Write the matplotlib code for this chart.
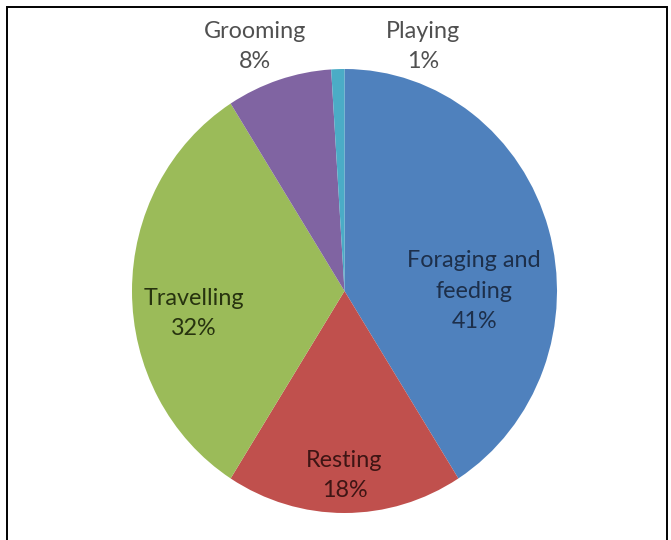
import matplotlib
matplotlib.use("Agg")
import matplotlib.pyplot as plt
from matplotlib.patches import Rectangle

# ----- data -----
labels = ["Foraging and\nfeeding", "Resting", "Travelling", "Grooming", "Playing"]
shares = [41, 18, 32, 8, 1]
colors = ["#4F81BD", "#C0504D", "#9BBB59", "#8064A2", "#4BACC6"]
text_colors = ["#1d2f4a", "#3e1514", "#27330f", "#505050", "#505050"]
# label centres in pie units (x, y), Excel "best fit" placement
label_pos = [(0.61, 0.0), (0.0, -0.83), (-0.71, -0.10), (-0.42, 1.10), (0.37, 1.10)]

W, H = 671, 540
fig = plt.figure(figsize=(W / 100, H / 100), dpi=100)
fig.patch.set_facecolor("white")

# outer frame (bottom edge runs off the picture)
fig.patches.append(Rectangle((7 / W, -0.02), 660 / W, 1.02 - 7 / H, transform=fig.transFigure,
                             fill=False, edgecolor="black", lw=1.4))

# pie occupies x 132..557 px, y 69..513 px
ax = fig.add_axes([132 / W, (H - 513) / H, 425 / W, 444 / H])
ax.pie(shares, colors=colors, startangle=90, counterclock=False, radius=1.0,
       wedgeprops=dict(linewidth=0))
ax.set_aspect("auto")
ax.set_xlim(-1, 1)
ax.set_ylim(-1, 1)
ax.axis("off")

for lab, val, (x, y), tc in zip(labels, shares, label_pos, text_colors):
    ax.text(x, y, f"{lab}\n{val}%", ha="center", va="center", fontsize=16.8,
            family="Lato", color=tc, linespacing=1.55, clip_on=False)

fig.savefig("out.png", dpi=100, facecolor="white")
